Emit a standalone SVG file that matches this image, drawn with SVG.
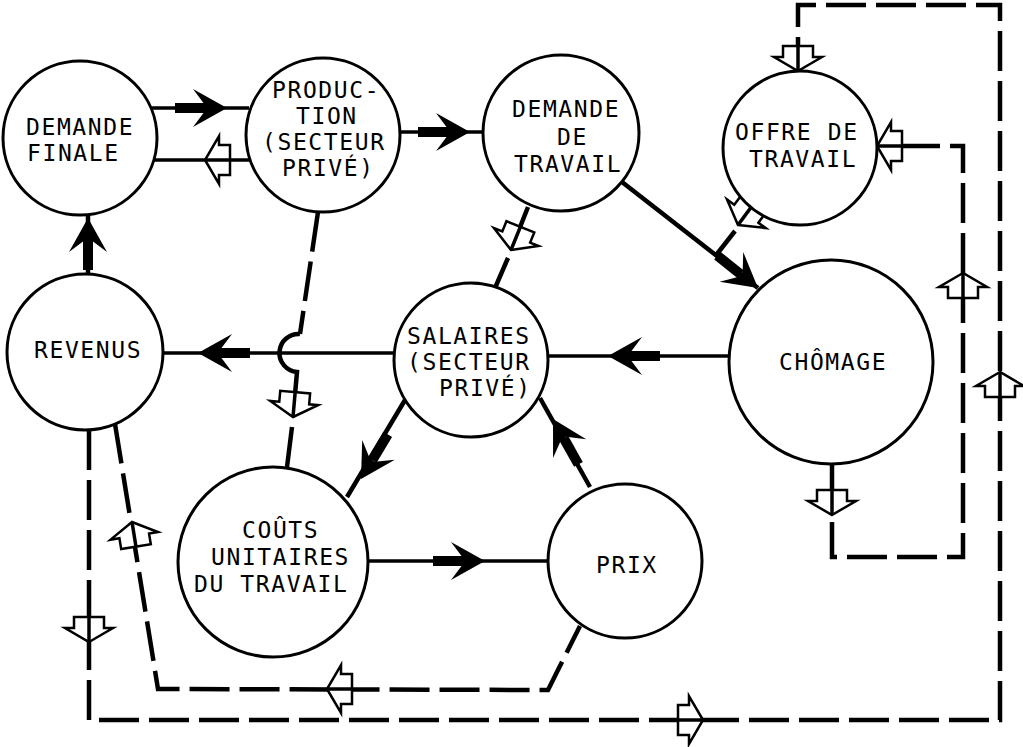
<svg xmlns="http://www.w3.org/2000/svg" xmlns:xlink="http://www.w3.org/1999/xlink" width="1023" height="747" viewBox="0 0 1023 747">
<style>
  .node circle { fill: #fff; stroke: #000; stroke-width: 3; }
  .node text { font-family: "DejaVu Sans Mono", "Liberation Mono", monospace; font-size: 23px; letter-spacing: 1.6px; fill: #000; }
  .c { fill: none; stroke: #000; stroke-width: 3.5; }
  .cw { fill: none; stroke: #000; stroke-width: 4.5; }
  .d { fill: none; stroke: #000; stroke-width: 4.5; stroke-dasharray: 40 10; }
  .hap { fill: #fff; stroke: #000; stroke-width: 2.5; stroke-linejoin: miter; }
  .hal { stroke: #000; stroke-width: 3.5; }
</style>
<defs>
  <g id="sa">
    <rect x="-52" y="-5" width="30" height="10" fill="#000"/>
    <path d="M0,0 L-34,-19 L-22,-3 L-22,3 L-34,19 Z" fill="#000"/>
  </g>
  <g id="ha">
    <path class="hap" d="M0,0 L-14,-24 L-14,-15 L-25,-15 L-25,15 L-14,15 L-14,24 Z"/>
    <line class="hal" x1="0" y1="0" x2="-25" y2="0"/>
  </g>
</defs>
<rect width="1023" height="747" fill="#fff"/>

<g id="connectors">
  <!-- solid links -->
  <line class="c" x1="151" y1="108" x2="249" y2="108"/>
  <line class="c" x1="152" y1="160" x2="250" y2="160"/>
  <line class="c" x1="400" y1="132" x2="483" y2="132"/>
  <line class="cw" x1="622" y1="182" x2="758" y2="288"/>
  <line class="c" x1="729" y1="356" x2="548" y2="356"/>
  <line class="c" x1="394" y1="353" x2="163" y2="353"/>
  <line class="cw" x1="88" y1="274" x2="88" y2="215"/>
  <line class="cw" x1="405" y1="400" x2="347" y2="497"/>
  <line class="cw" x1="590" y1="487" x2="540" y2="398"/>
  <line class="c" x1="368" y1="561" x2="548" y2="561"/>

  <!-- production -> couts (dashed, with hop) -->
  <line class="d" x1="318" y1="212" x2="300" y2="334"/>
  <path class="cw" d="M300,334 A19,19 0 0,0 297,372 L293,417"/>
  <line class="cw" x1="292" y1="427" x2="287" y2="467"/>

  <!-- demande de travail -> salaires -->
  <line class="cw" x1="528" y1="207" x2="511" y2="250"/>
  <line class="cw" x1="508" y1="258" x2="495" y2="288"/>

  <!-- offre -> chomage link -->
  <line class="cw" x1="751" y1="207" x2="738" y2="225"/>
  <line class="cw" x1="735" y1="231" x2="717" y2="254"/>

  <!-- chomage -> offre loop -->
  <line class="cw" x1="832" y1="464" x2="832" y2="515"/>
  <path class="d" d="M832,522 L832,557 L963,557 L963,146 L877,146"/>

  <!-- outer loop revenus -> offre -->
  <path class="d" d="M89,430 L89,720 L1000,720 L1000,5 L798,5 L798,71"/>

  <!-- revenus -> prix loop -->
  <path class="d" d="M115,424 L158,689 L548,690 L580,626"/>

  <!-- solid arrowheads -->
  <use xlink:href="#sa" transform="translate(227,108)"/>
  <use xlink:href="#sa" transform="translate(470,132)"/>
  <use xlink:href="#sa" transform="translate(758,288) rotate(38.5)"/>
  <use xlink:href="#sa" transform="translate(608,356) rotate(180)"/>
  <use xlink:href="#sa" transform="translate(198,353) rotate(180)"/>
  <use xlink:href="#sa" transform="translate(88,218) rotate(-90)"/>
  <use xlink:href="#sa" transform="translate(361,479) rotate(121)"/>
  <use xlink:href="#sa" transform="translate(553,419) rotate(-119.3)"/>
  <use xlink:href="#sa" transform="translate(485,561)"/>

  <!-- hollow arrowheads -->
  <use xlink:href="#ha" transform="translate(205,160) rotate(180)"/>
  <use xlink:href="#ha" transform="translate(293,417) rotate(95)"/>
  <use xlink:href="#ha" transform="translate(511,250) rotate(112)"/>
  <use xlink:href="#ha" transform="translate(738,225) rotate(126.5)"/>
  <use xlink:href="#ha" transform="translate(798,71) rotate(90)"/>
  <use xlink:href="#ha" transform="translate(877,146) rotate(180)"/>
  <use xlink:href="#ha" transform="translate(963,273) rotate(-90)"/>
  <use xlink:href="#ha" transform="translate(1000,372) rotate(-90)"/>
  <use xlink:href="#ha" transform="translate(832,515) rotate(90)"/>
  <use xlink:href="#ha" transform="translate(89,642) rotate(90)"/>
  <use xlink:href="#ha" transform="translate(703,720)"/>
  <use xlink:href="#ha" transform="translate(132,522) rotate(-99.2)"/>
  <use xlink:href="#ha" transform="translate(327,689) rotate(180)"/>
</g>

<g id="demande-finale" class="node">
  <circle cx="80" cy="138" r="77"/>
  <text><tspan x="26" y="135">DEMANDE</tspan><tspan x="27" y="161">FINALE</tspan></text>
</g>
<g id="production" class="node">
  <circle cx="323" cy="135" r="77"/>
  <text><tspan x="272" y="98">PRODUC-</tspan><tspan x="296" y="124">TION</tspan><tspan x="262" y="150">(SECTEUR</tspan><tspan x="282" y="176">PRIVÉ)</tspan></text>
</g>
<g id="demande-travail" class="node">
  <circle cx="561" cy="133" r="78"/>
  <text><tspan x="512" y="117">DEMANDE</tspan><tspan x="557" y="145">DE</tspan><tspan x="514" y="172">TRAVAIL</tspan></text>
</g>
<g id="offre-travail" class="node">
  <circle cx="800" cy="148" r="77"/>
  <text><tspan x="735" y="140">OFFRE DE</tspan><tspan x="749" y="167">TRAVAIL</tspan></text>
</g>
<g id="chomage" class="node">
  <circle cx="831" cy="362" r="102"/>
  <text x="779" y="370">CHÔMAGE</text>
</g>
<g id="revenus" class="node">
  <circle cx="85" cy="352" r="78"/>
  <text x="34" y="358">REVENUS</text>
</g>
<g id="salaires" class="node">
  <circle cx="471" cy="360" r="77"/>
  <text><tspan x="407" y="344">SALAIRES</tspan><tspan x="407" y="370">(SECTEUR</tspan><tspan x="439" y="396">PRIVÉ)</tspan></text>
</g>
<g id="couts" class="node">
  <circle cx="273" cy="562" r="95"/>
  <text><tspan x="242" y="538">COÛTS</tspan><tspan x="211" y="565">UNITAIRES</tspan><tspan x="194" y="592">DU TRAVAIL</tspan></text>
</g>
<g id="prix" class="node">
  <circle cx="625" cy="561" r="77"/>
  <text x="596" y="573">PRIX</text>
</g>
</svg>
